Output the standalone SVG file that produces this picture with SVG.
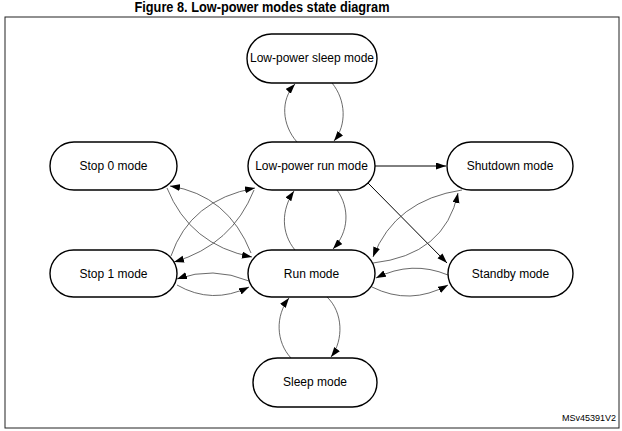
<svg xmlns="http://www.w3.org/2000/svg" width="622" height="431" viewBox="0 0 622 431">
<style>
.node rect{fill:#fff;stroke:#000;stroke-width:1.4}
.node text{font-family:"Liberation Sans",Arial,sans-serif;font-size:12px;fill:#000;text-anchor:middle}
.c{fill:none;stroke:#444;stroke-width:0.8}
.s{fill:none;stroke:#000;stroke-width:1}
</style>
<defs>
<marker id="ah" markerUnits="userSpaceOnUse" markerWidth="10" markerHeight="8" refX="10" refY="3.5" orient="auto">
<path d="M0,0 L10,3.5 L0,7 z" fill="#000"/>
</marker>
</defs>
<rect x="0" y="0" width="622" height="431" fill="#fff"/>
<text x="262" y="12" font-family="'Liberation Sans',Arial,sans-serif" font-size="14" font-weight="bold" text-anchor="middle" textLength="255" lengthAdjust="spacingAndGlyphs">Figure 8. Low-power modes state diagram</text>
<rect x="5" y="17" width="614" height="411" fill="none" stroke="#222" stroke-width="1"/>
<text x="616" y="421" font-family="'Liberation Sans',Arial,sans-serif" font-size="9" text-anchor="end">MSv45391V2</text>

<g id="connectors">
<path class="c" d="M297,142 C282,125 280,100 295,84" marker-end="url(#ah)"/>
<path class="c" d="M332,83 C346,100 347,125 334,141" marker-end="url(#ah)"/>
<path class="c" d="M295,250 C281,233 281,210 294,191" marker-end="url(#ah)"/>
<path class="c" d="M337,190 C350,208 349,232 333,249" marker-end="url(#ah)"/>
<path class="c" d="M291,358 C276,342 275,316 289,298" marker-end="url(#ah)"/>
<path class="c" d="M327,297 C343,312 344,340 331,357" marker-end="url(#ah)"/>
<path class="s" d="M375,166 L446,166" marker-end="url(#ah)"/>
<path class="s" d="M368,183 L447,263" marker-end="url(#ah)"/>
<path class="c" d="M373,263 Q445,255 458,193" marker-end="url(#ah)"/>
<path class="c" d="M462,190 Q395,200 373,257" marker-end="url(#ah)"/>
<path class="c" d="M448,275 Q412,260 376,278" marker-end="url(#ah)"/>
<path class="c" d="M372,287 Q410,306 448,285" marker-end="url(#ah)"/>
<path class="c" d="M249,281 Q213,266 177,279" marker-end="url(#ah)"/>
<path class="c" d="M177,285 Q212,305 249,287" marker-end="url(#ah)"/>
<path class="c" d="M167,188 Q190,245 252,257" marker-end="url(#ah)"/>
<path class="c" d="M251,253 Q228,195 170,186" marker-end="url(#ah)"/>
<path class="c" d="M254,190 Q232,245 174,262" marker-end="url(#ah)"/>
<path class="c" d="M171,256 Q190,200 255,188" marker-end="url(#ah)"/>
</g>

<g id="lp-sleep" class="node"><rect x="247" y="34" width="130" height="49" rx="24.5"/><text x="312" y="62">Low-power sleep mode</text></g>
<g id="lp-run" class="node"><rect x="248" y="142" width="127" height="48" rx="24"/><text x="311.5" y="170">Low-power run mode</text></g>
<g id="run" class="node"><rect x="248" y="250" width="127" height="47" rx="23.5"/><text x="311.5" y="278">Run mode</text></g>
<g id="stop0" class="node"><rect x="50" y="142" width="127" height="48" rx="24"/><text x="113.5" y="170">Stop 0 mode</text></g>
<g id="stop1" class="node"><rect x="50" y="250" width="127" height="47" rx="23.5"/><text x="113.5" y="278">Stop 1 mode</text></g>
<g id="shutdown" class="node"><rect x="447" y="142" width="126" height="48" rx="24"/><text x="510" y="170">Shutdown mode</text></g>
<g id="standby" class="node"><rect x="448" y="250" width="125" height="47" rx="23.5"/><text x="510.5" y="278">Standby mode</text></g>
<g id="sleep" class="node"><rect x="253" y="358" width="124" height="49" rx="24.5"/><text x="315" y="386">Sleep mode</text></g>
</svg>
